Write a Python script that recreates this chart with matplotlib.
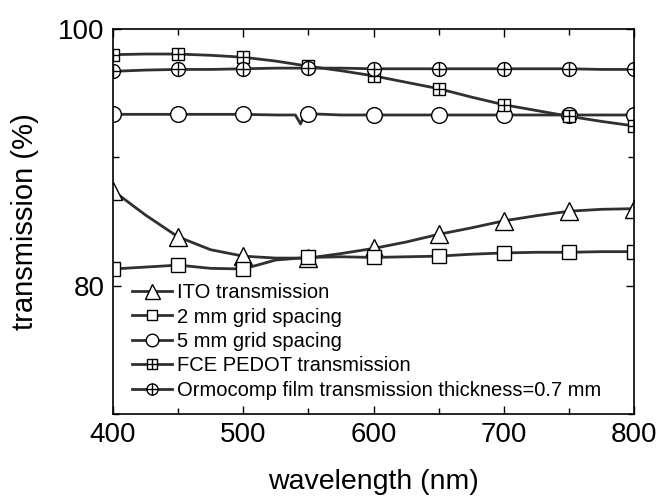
"""
Transmission spectra of ITO, grid electrodes, PEDOT and Ormocomp film.
"""

import matplotlib
matplotlib.use("Agg")
import matplotlib.pyplot as plt
from matplotlib.ticker import MultipleLocator
from matplotlib.legend_handler import HandlerTuple

plt.rcParams["font.family"] = ["Liberation Sans", "DejaVu Sans"]

# ── data ──────────────────────────────────────────────────────────────────────
wl = [400, 425, 450, 475, 500, 525, 550, 575, 600, 625, 650, 675, 700,
      725, 750, 775, 800]

ito = [87.4, 85.5, 83.8, 82.8, 82.3, 82.15, 82.15, 82.5, 82.9, 83.4, 84.0,
       84.5, 85.05, 85.45, 85.8, 85.95, 86.0]
grid_2mm = [81.3, 81.45, 81.6, 81.35, 81.3, 82.0, 82.2, 82.25, 82.2, 82.25,
            82.3, 82.45, 82.55, 82.6, 82.6, 82.65, 82.65]
pedot = [98.0, 98.05, 98.05, 97.95, 97.8, 97.5, 97.1, 96.75, 96.35, 95.85,
         95.35, 94.7, 94.1, 93.65, 93.2, 92.8, 92.45]
ormo = [96.7, 96.8, 96.85, 96.85, 96.9, 96.95, 96.95, 96.95, 96.9, 96.9,
        96.9, 96.9, 96.9, 96.9, 96.9, 96.85, 96.85]

# 5 mm grid has a small dip near 544 nm
wl_5mm = [400, 425, 450, 475, 500, 525, 540, 544, 547, 550, 575, 600, 625,
          650, 675, 700, 725, 750, 775, 800]
grid_5mm = [93.35, 93.35, 93.35, 93.35, 93.35, 93.3, 93.3, 92.6, 93.35,
            93.4, 93.3, 93.3, 93.3, 93.3, 93.3, 93.3, 93.3, 93.3, 93.3, 93.3]

labels = ["ITO transmission", "2 mm grid spacing", "5 mm grid spacing",
          "FCE PEDOT transmission",
          "Ormocomp film transmission thickness=0.7 mm"]

LINE_C = "#303030"

fig = plt.figure(figsize=(6.61, 4.99), dpi=100)
ax = fig.add_axes([113/661, 1 - 414/499, 521/661, 385/499])

def every50(xs):
    return [x % 50 == 0 for x in xs]

common = dict(color=LINE_C, lw=2.0, mfc="white", mec="black", mew=1.0)

h_ito, = ax.plot(wl, ito, marker="^", ms=13.5, markevery=every50(wl), **common)
h_2mm, = ax.plot(wl, grid_2mm, marker="s", ms=9.5, markevery=every50(wl), **common)
h_5mm, = ax.plot(wl_5mm, grid_5mm, marker="o", ms=11.3,
                 markevery=every50(wl_5mm), **common)
h_ped, = ax.plot(wl, pedot, marker="s", ms=9.0, markevery=every50(wl), **common)
h_ped_p, = ax.plot(wl, pedot, ls="none", marker="+", ms=9.0, mec="black",
                   mew=1.0, markevery=every50(wl))
h_orm, = ax.plot(wl, ormo, marker="o", ms=10.0, markevery=every50(wl), **common)
h_orm_p, = ax.plot(wl, ormo, ls="none", marker="+", ms=10.0, mec="black",
                   mew=1.0, markevery=every50(wl))

ax.set_xlim(400, 800)
ax.set_ylim(70, 100)
ax.xaxis.set_major_locator(MultipleLocator(100))
ax.xaxis.set_minor_locator(MultipleLocator(50))
ax.yaxis.set_major_locator(MultipleLocator(20))
ax.yaxis.set_minor_locator(MultipleLocator(10))
ax.tick_params(which="both", direction="in", top=True, right=True,
               labelsize=20, width=1.0)
ax.tick_params(which="major", length=6, pad=6)
ax.tick_params(which="minor", length=4)
for sp in ax.spines.values():
    sp.set_linewidth(1.2)

ax.set_xlabel("wavelength (nm)", fontsize=20.5, labelpad=15)
ax.set_ylabel("transmission (%)", fontsize=21, labelpad=14)

ax.legend([h_ito, h_2mm, h_5mm, (h_ped, h_ped_p), (h_orm, h_orm_p)], labels,
          handler_map={tuple: HandlerTuple(ndivide=1)},
          loc="upper left", bbox_to_anchor=(0.036, 0.340), frameon=False,
          fontsize=14.5, numpoints=1, markerscale=0.8, handlelength=2.0,
          handletextpad=0.25, labelspacing=0.27, borderpad=0, borderaxespad=0)

fig.savefig("out.png", dpi=100)
